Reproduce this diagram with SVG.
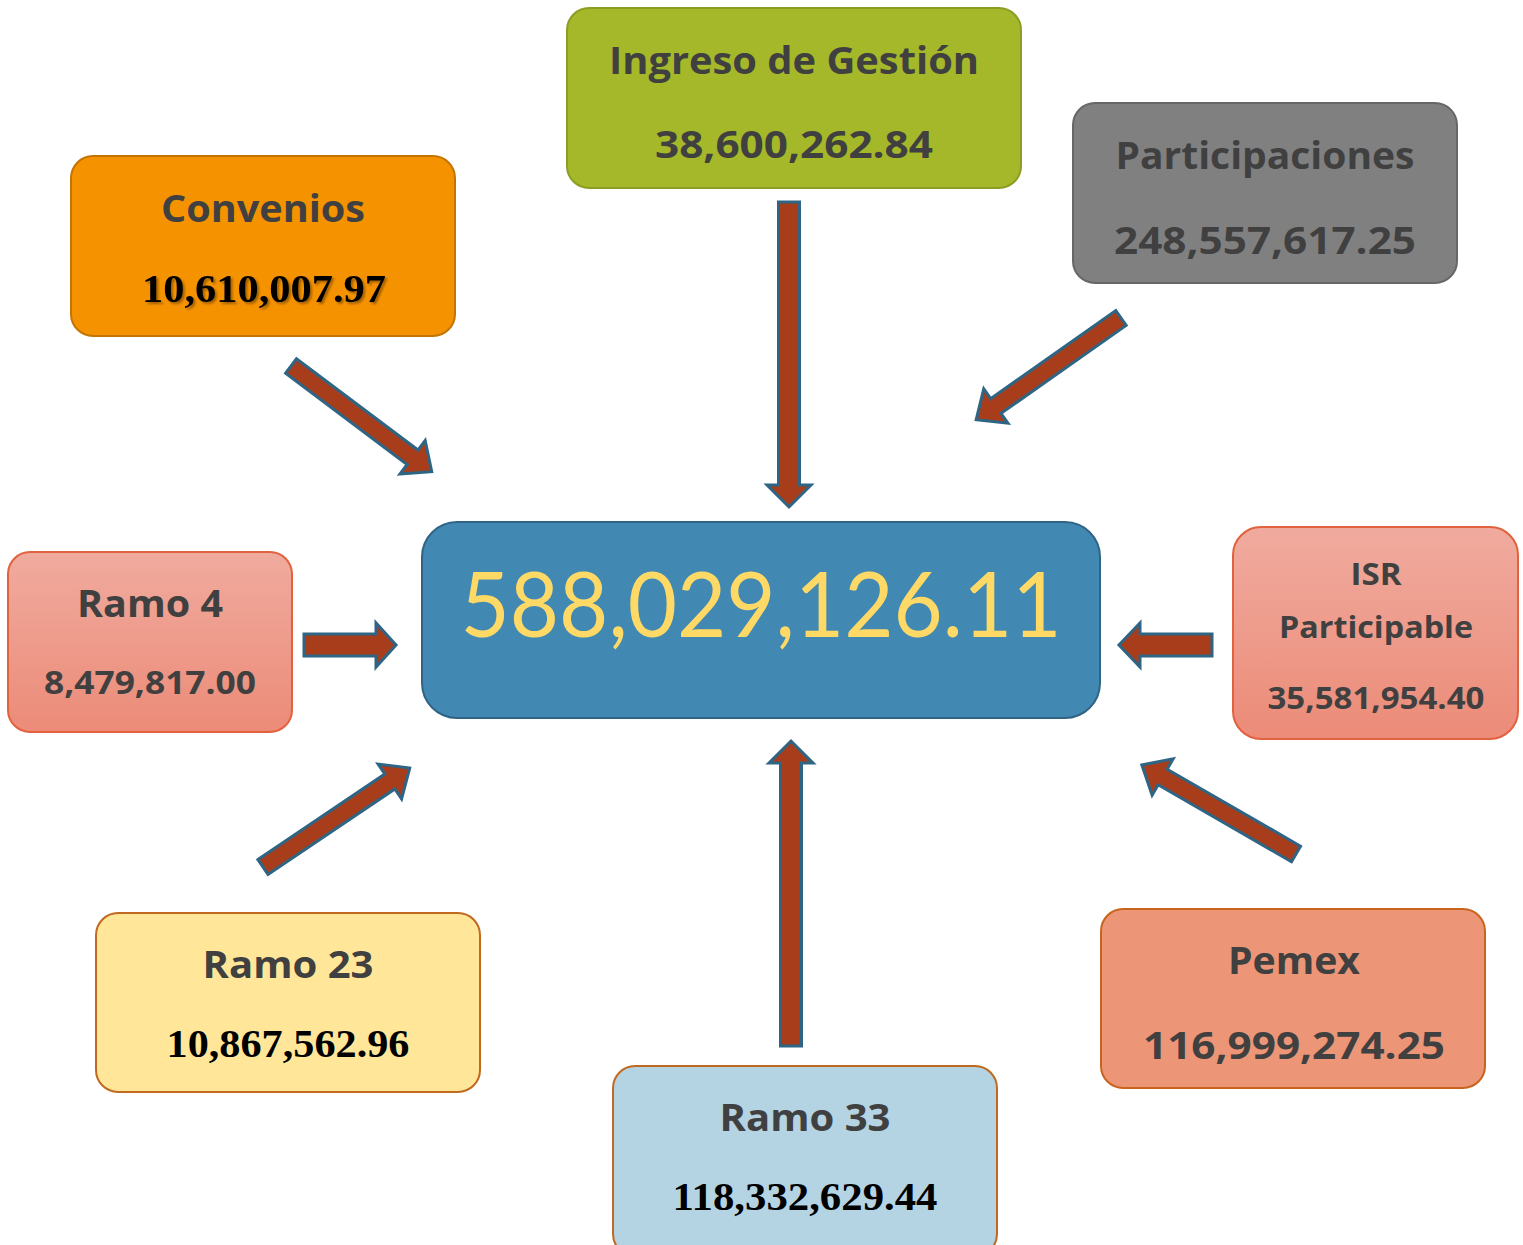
<svg xmlns="http://www.w3.org/2000/svg" width="1523" height="1245" viewBox="0 0 1523 1245">
<defs>
<linearGradient id="pink" x1="0" y1="0" x2="0" y2="1">
<stop offset="0" stop-color="#f0ab9e"/>
<stop offset="1" stop-color="#ec8b78"/>
</linearGradient>
<filter id="shadow" x="-5%" y="-20%" width="110%" height="140%">
<feDropShadow dx="2" dy="2" stdDeviation="0.8" flood-color="#000" flood-opacity="0.35"/>
</filter>
</defs>
<style>
.lbl{font-family:"Open Sans",Lato,"Liberation Sans",sans-serif;font-weight:bold;fill:#404040;text-anchor:middle}
.num{font-family:"Liberation Serif","Times New Roman",serif;font-weight:bold;fill:#000;text-anchor:middle}
.arr{fill:#a83d1b;stroke:#2e6585;stroke-width:3;stroke-linejoin:miter}
.box{stroke-width:2}
</style>
<g id="connectors">
<polygon class="arr" transform="translate(789,202) rotate(90)" points="0,-10.5 283,-10.5 283,-22 305,0 283,22 283,10.5 0,10.5"/>
<polygon class="arr" transform="translate(791,1046) rotate(-90)" points="0,-10.5 283,-10.5 283,-22 305,0 283,22 283,10.5 0,10.5"/>
<polygon class="arr" transform="translate(291,366) rotate(36.9)" points="0,-9 152,-9 152,-21 176,0 152,21 152,9 0,9"/>
<polygon class="arr" transform="translate(1121,318) rotate(144.9)" points="0,-9 153,-9 153,-21 177,0 153,21 153,9 0,9"/>
<polygon class="arr" transform="translate(304,645) rotate(0)" points="0,-11 72,-11 72,-22 92,0 72,22 72,11 0,11"/>
<polygon class="arr" transform="translate(1212,645) rotate(180)" points="0,-11 72,-11 72,-22 93,0 72,22 72,11 0,11"/>
<polygon class="arr" transform="translate(263,867) rotate(-34)" points="0,-9 153,-9 153,-21 177,0 153,21 153,9 0,9"/>
<polygon class="arr" transform="translate(1296,854) rotate(-150)" points="0,-9 154,-9 154,-21 178,0 154,21 154,9 0,9"/>
</g>
<g id="ingreso">
<rect class="box" x="567" y="8" width="454" height="180" rx="22" fill="#a5b829" stroke="#8c9e22"/>
<text class="lbl" x="794" y="74" font-size="38" textLength="370" lengthAdjust="spacingAndGlyphs">Ingreso de Gestión</text>
<text class="lbl" x="794" y="158" font-size="38" textLength="278" lengthAdjust="spacingAndGlyphs">38,600,262.84</text>
</g>
<g id="participaciones">
<rect class="box" x="1073" y="103" width="384" height="180" rx="22" fill="#808080" stroke="#676767"/>
<text class="lbl" x="1265" y="169" font-size="38" textLength="299" lengthAdjust="spacingAndGlyphs">Participaciones</text>
<text class="lbl" x="1265" y="254" font-size="38" textLength="302" lengthAdjust="spacingAndGlyphs">248,557,617.25</text>
</g>
<g id="convenios">
<rect class="box" x="71" y="156" width="384" height="180" rx="22" fill="#f59200" stroke="#c47400"/>
<text class="lbl" x="263" y="222" font-size="38" textLength="204" lengthAdjust="spacingAndGlyphs">Convenios</text>
<text class="num" x="264" y="302" font-size="41" textLength="244" lengthAdjust="spacingAndGlyphs" filter="url(#shadow)">10,610,007.97</text>
</g>
<g id="ramo4">
<rect class="box" x="8" y="552" width="284" height="180" rx="22" fill="url(#pink)" stroke="#e2623f"/>
<text class="lbl" x="150" y="617" font-size="38" textLength="146" lengthAdjust="spacingAndGlyphs">Ramo 4</text>
<text class="lbl" x="150" y="694" font-size="32" textLength="212" lengthAdjust="spacingAndGlyphs">8,479,817.00</text>
</g>
<g id="total">
<rect class="box" x="422" y="522" width="678" height="196" rx="35" fill="#4189b3" stroke="#2f6485"/>
<text x="761" y="637" font-family="Lato,'Open Sans','Liberation Sans',sans-serif" font-size="92" fill="#ffd966" text-anchor="middle" textLength="601" lengthAdjust="spacingAndGlyphs">588,029,126.11</text>
</g>
<g id="isr">
<rect class="box" x="1233" y="527" width="285" height="212" rx="28" fill="url(#pink)" stroke="#e2623f"/>
<text class="lbl" x="1376" y="585" font-size="31" textLength="51" lengthAdjust="spacingAndGlyphs">ISR</text>
<text class="lbl" x="1376" y="638" font-size="31" textLength="194" lengthAdjust="spacingAndGlyphs">Participable</text>
<text class="lbl" x="1376" y="709" font-size="31" textLength="217" lengthAdjust="spacingAndGlyphs">35,581,954.40</text>
</g>
<g id="ramo23">
<rect class="box" x="96" y="913" width="384" height="179" rx="22" fill="#ffe699" stroke="#c0691f"/>
<text class="lbl" x="288" y="978" font-size="38" textLength="171" lengthAdjust="spacingAndGlyphs">Ramo 23</text>
<text class="num" x="288" y="1057" font-size="41" textLength="243" lengthAdjust="spacingAndGlyphs">10,867,562.96</text>
</g>
<g id="pemex">
<rect class="box" x="1101" y="909" width="384" height="179" rx="22" fill="#ec9577" stroke="#c8641e"/>
<text class="lbl" x="1294" y="974" font-size="38" textLength="132" lengthAdjust="spacingAndGlyphs">Pemex</text>
<text class="lbl" x="1294" y="1059" font-size="38" textLength="302" lengthAdjust="spacingAndGlyphs">116,999,274.25</text>
</g>
<g id="ramo33">
<rect class="box" x="613" y="1066" width="384" height="190" rx="22" fill="#b4d3e3" stroke="#c0691f"/>
<text class="lbl" x="805" y="1131" font-size="38" textLength="171" lengthAdjust="spacingAndGlyphs">Ramo 33</text>
<text class="num" x="805" y="1210" font-size="41" textLength="265" lengthAdjust="spacingAndGlyphs">118,332,629.44</text>
</g>
</svg>
